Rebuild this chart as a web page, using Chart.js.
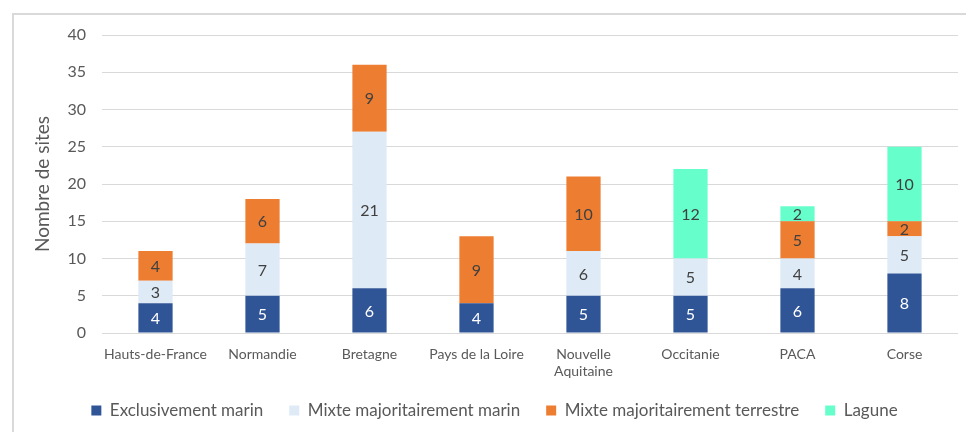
<!DOCTYPE html>
<html>
<head>
<meta charset="utf-8">
<script src="https://cdn.jsdelivr.net/npm/chart.js@4"></script>
<style>
html,body{margin:0;padding:0;background:#fff;overflow:hidden;}
#frame{position:absolute;left:12px;top:13px;width:1000px;height:500px;border:2px solid #d9d9d9;box-sizing:border-box;}
#wrap{position:absolute;left:0;top:0;width:966px;height:432px;}
</style>
</head>
<body>
<div id="frame"></div>
<div id="wrap"><canvas id="c" width="966" height="432"></canvas></div>
<script>
const categories = ['Hauts-de-France','Normandie','Bretagne','Pays de la Loire',['Nouvelle','Aquitaine'],'Occitanie','PACA','Corse'];
const exclusivementMarin = [4,5,6,4,5,5,6,8];
const mixteMarin = [3,7,21,0,6,5,4,5];
const mixteTerrestre = [4,6,9,9,10,0,5,2];
const lagune = [0,0,0,0,0,12,2,10];
const yTicks = [0,5,10,15,20,25,30,35,40];

const FONT = "Lato, 'Open Sans', sans-serif";

const labelPlugin = {
  id:'barLabels',
  afterDatasetsDraw(chart){
    const ctx = chart.ctx;
    ctx.save();
    ctx.font = "16px " + FONT;
    ctx.textAlign='center';
    ctx.textBaseline='middle';
    chart.data.datasets.forEach((ds,i)=>{
      const meta = chart.getDatasetMeta(i);
      meta.data.forEach((bar,j)=>{
        const v = ds.data[j];
        if(!v) return;
        ctx.fillStyle = ds.labelColor;
        ctx.fillText(String(v), bar.x, (bar.y+bar.base)/2 + 1);
      });
    });
    ctx.restore();
  }
};

new Chart(document.getElementById('c'),{
  type:'bar',
  data:{
    labels:categories,
    datasets:[
      {label:'Exclusivement marin',data:exclusivementMarin,backgroundColor:'#2F5597',labelColor:'#ffffff'},
      {label:'Mixte majoritairement marin',data:mixteMarin,backgroundColor:'#DEEAF6',labelColor:'#404040'},
      {label:'Mixte majoritairement terrestre',data:mixteTerrestre,backgroundColor:'#ED7D31',labelColor:'#404040'},
      {label:'Lagune',data:lagune,backgroundColor:'#66FFCC',labelColor:'#404040'}
    ]
  },
  options:{
    responsive:false,
    animation:false,
    devicePixelRatio:1,
    categoryPercentage:1,
    barPercentage:0.32,
    layout:{padding:{left:31,right:8,top:35,bottom:3}},
    plugins:{
      legend:{
        position:'bottom',
        labels:{boxWidth:10,boxHeight:10,padding:26,color:'#595959',font:{family:FONT,size:17}}
      },
      tooltip:{enabled:false}
    },
    scales:{
      x:{
        stacked:true,
        afterFit(s){ s.height=43; s._computeLabelArea = function(){ return undefined; }; },
        grid:{display:false},
        border:{display:false},
        ticks:{color:'#595959',font:{family:FONT,size:14},maxRotation:0,autoSkip:false,padding:5}
      },
      y:{
        stacked:true,
        min:0,max:40,
        afterFit(s){s.width=71;},
        afterBuildTicks(s){s.ticks = yTicks.map(v=>({value:v}));},
        grid:{color:'#d9d9d9',lineWidth:1,drawTicks:false},
        border:{display:false},
        ticks:{color:'#595959',font:{family:FONT,size:16},padding:16},
        title:{display:true,text:'Nombre de sites',color:'#595959',font:{family:FONT,size:19},padding:{top:0,bottom:0}}
      }
    }
  },
  plugins:[labelPlugin]
});
</script>
</body>
</html>
